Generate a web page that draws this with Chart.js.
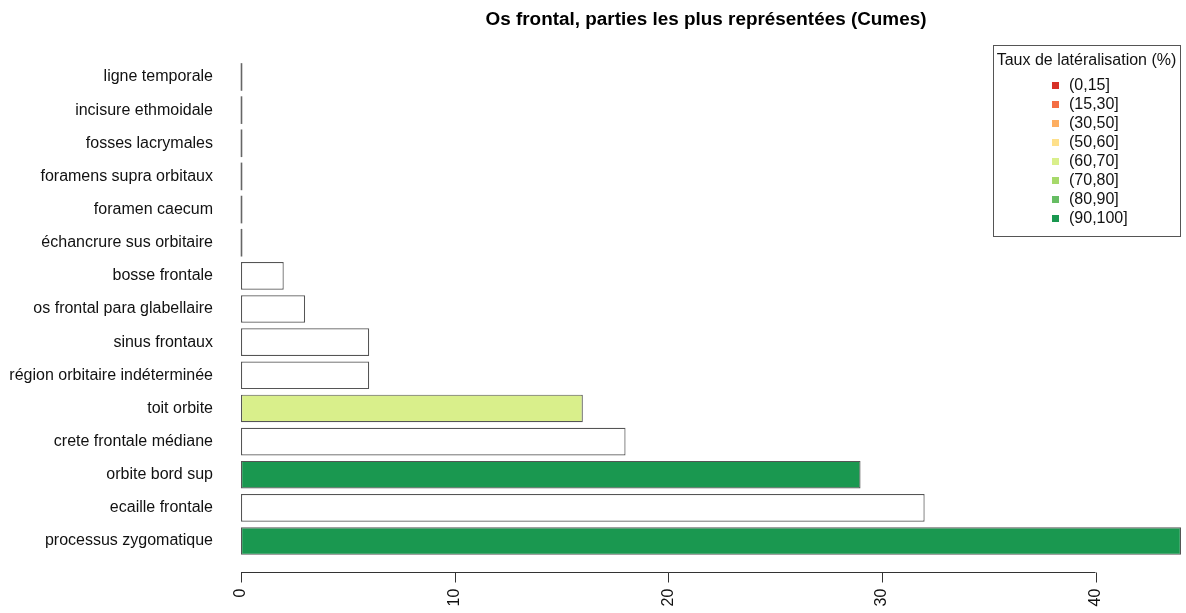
<!DOCTYPE html>
<html>
<head>
<meta charset="utf-8">
<script src="https://cdn.jsdelivr.net/npm/chart.js@4/dist/chart.umd.min.js"></script>
<style>
  html, body { margin: 0; padding: 0; background: #fff; }
  #wrap { width: 1186px; height: 613px; position: relative; }
</style>
</head>
<body>
<div id="wrap"><canvas id="chart"></canvas></div>
<script>
// parts of the frontal bone, top to bottom as drawn
const parts = [
    "ligne temporale",
    "incisure ethmoidale",
    "fosses lacrymales",
    "foramens supra orbitaux",
    "foramen caecum",
    "échancrure sus orbitaire",
    "bosse frontale",
    "os frontal para glabellaire",
    "sinus frontaux",
    "région orbitaire indéterminée",
    "toit orbite",
    "crete frontale médiane",
    "orbite bord sup",
    "ecaille frontale",
    "processus zygomatique",
];
const counts = [0, 0, 0, 0, 0, 0, 2, 3, 6, 6, 16, 18, 29, 32, 44];
// index into lateralityClasses, null = no laterality rate (white bar)
const lateralityClass = [null, null, null, null, null, null, null, null, null, null, 4, null, 7, null, 7];

const lateralityClasses = ["(0,15]", "(15,30]", "(30,50]", "(50,60]", "(60,70]", "(70,80]", "(80,90]", "(90,100]"];
const classColors = ["#D73027", "#F46D43", "#FDAE61", "#FEE08B", "#D9EF8B", "#A6D96A", "#66BD63", "#1A9850"];
const xTicks = [0, 10, 20, 30, 40];

const chartTitle = "Os frontal, parties les plus représentées (Cumes)";

const FONT = '"Liberation Sans", Arial, sans-serif';
Chart.defaults.font.family = FONT;
Chart.defaults.font.size = 16;
Chart.defaults.color = "#111";

const barFill = lateralityClass.map(c => (c === null ? "#ffffff" : classColors[c]));

// main title, centred like R does over the plot region
const mainTitle = {
    id: "mainTitle",
    afterDraw(chart) {
        const {ctx} = chart;
        ctx.save();
        ctx.font = "bold 18.9px " + FONT;
        ctx.fillStyle = "#000";
        ctx.textAlign = "center";
        ctx.textBaseline = "middle";
        ctx.fillText(chartTitle, 706, 19.5);
        ctx.restore();
    },
};

// R style axis: line + ticks sitting a bit below the plot region
const baseAxis = {
    id: "baseAxis",
    afterDraw(chart) {
        const {ctx, chartArea} = chart;
        const x = chart.scales.x;
        const y0 = Math.round(chartArea.bottom + 14) + 0.5;
        ctx.save();
        ctx.strokeStyle = "#333";
        ctx.lineWidth = 1;
        ctx.beginPath();
        ctx.moveTo(x.getPixelForValue(xTicks[0]), y0);
        ctx.lineTo(x.getPixelForValue(xTicks[xTicks.length - 1]), y0);
        xTicks.forEach(v => {
            const px = Math.round(x.getPixelForValue(v)) + 0.5;
            ctx.moveTo(px, y0);
            ctx.lineTo(px, y0 + 10);
        });
        ctx.stroke();
        ctx.restore();
    },
};

// zero-length bars still show their border as a vertical stroke
const zeroBars = {
    id: "zeroBars",
    afterDatasetsDraw(chart) {
        const {ctx} = chart;
        const meta = chart.getDatasetMeta(0);
        ctx.save();
        ctx.strokeStyle = "#666";
        ctx.lineWidth = 1.6;
        meta.data.forEach((bar, i) => {
            if (counts[i] !== 0) return;
            const p = bar.getProps(["x", "y", "height"], true);
            ctx.beginPath();
            ctx.moveTo(Math.round(p.x) + 0.5, p.y - p.height / 2);
            ctx.lineTo(Math.round(p.x) + 0.5, p.y + p.height / 2);
            ctx.stroke();
        });
        ctx.restore();
    },
};

// boxed legend in the top right corner
const classLegend = {
    id: "classLegend",
    afterDraw(chart) {
        const {ctx} = chart;
        const left = 993, top = 45, right = 1180, bottom = 236;
        ctx.save();
        ctx.strokeStyle = "#555";
        ctx.lineWidth = 1;
        ctx.strokeRect(left + 0.5, top + 0.5, right - left, bottom - top);
        ctx.fillStyle = "#111";
        ctx.font = "16px " + FONT;
        ctx.textBaseline = "middle";
        ctx.textAlign = "center";
        ctx.fillText("Taux de latéralisation (%)", (left + right) / 2, 61);
        ctx.textAlign = "left";
        lateralityClasses.forEach((lab, i) => {
            const yy = 85 + i * 19;
            ctx.fillStyle = classColors[i];
            ctx.fillRect(1052, yy - 3, 7, 7);
            ctx.fillStyle = "#111";
            ctx.fillText(lab, 1069, yy + 1);
        });
        ctx.restore();
    },
};

new Chart(document.getElementById("chart"), {
    type: "bar",
    data: {
        labels: parts,
        datasets: [
            {
                data: counts,
                backgroundColor: barFill,
                borderColor: "#555",
                borderWidth: 1.2,
                borderSkipped: false,
                barPercentage: 1 / 1.2,
                categoryPercentage: 1,
            },
        ],
    },
    options: {
        indexAxis: "y",
        responsive: true,
        maintainAspectRatio: false,
        animation: false,
        layout: {padding: {left: 0, right: 5, top: 60.4, bottom: 0}},
        plugins: {
            legend: {display: false},
            tooltip: {enabled: false},
            title: {display: false},
        },
        scales: {
            x: {
                min: 0,
                max: 44,
                grid: {display: false, drawTicks: false},
                border: {display: false},
                afterBuildTicks: s => {
                    s.ticks = xTicks.map(v => ({value: v}));
                },
                afterFit: s => {
                    s.height = 55.4;
                },
                ticks: {
                    autoSkip: false,
                    minRotation: 90,
                    maxRotation: 90,
                    padding: 31,
                    color: "#111",
                },
            },
            y: {
                grid: {display: false, drawTicks: false},
                border: {display: false},
                afterFit: s => {
                    s.width = 241;
                },
                ticks: {
                    autoSkip: false,
                    padding: 28,
                    color: "#111",
                },
            },
        },
    },
    plugins: [baseAxis, zeroBars, classLegend, mainTitle],
});
</script>
</body>
</html>
